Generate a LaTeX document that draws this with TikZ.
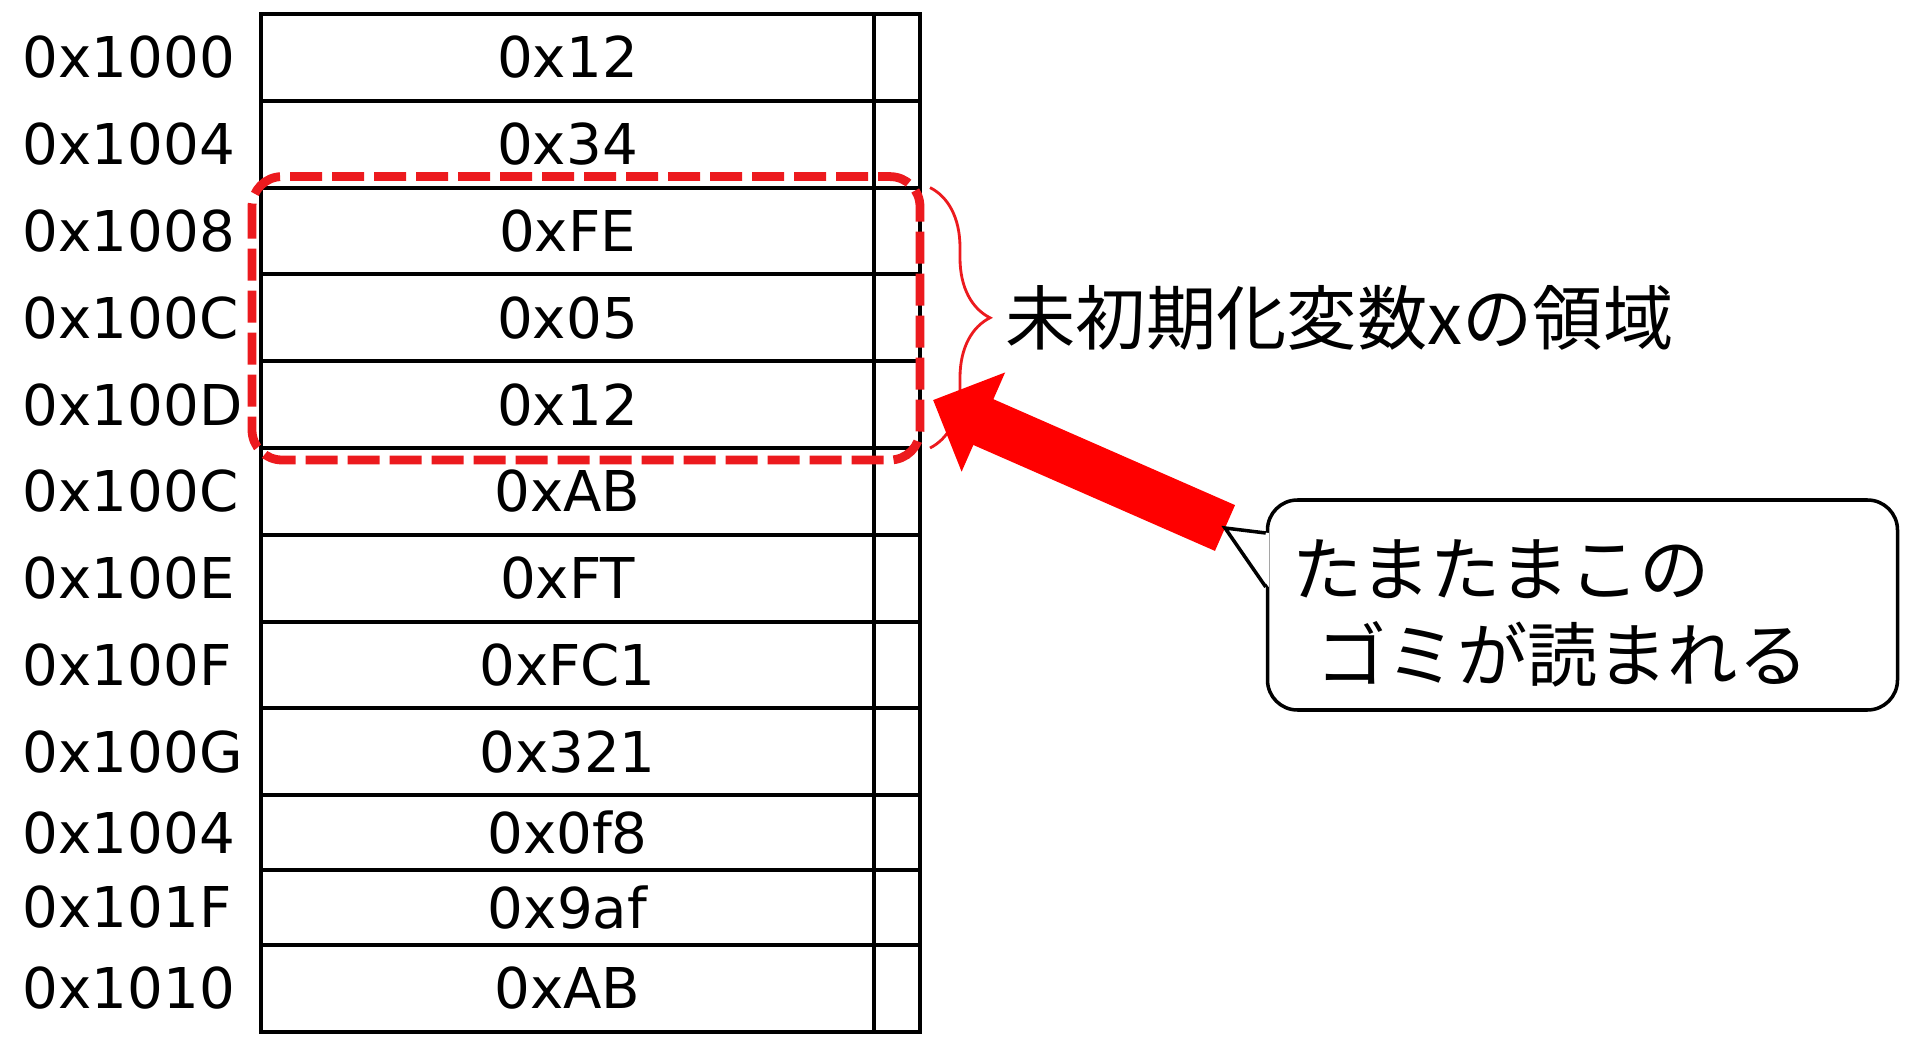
\documentclass[tikz,border=0pt]{standalone}
\usepackage{fontspec}
\setmainfont{DejaVu Sans}
\newfontfamily\jpfont{Noto Sans CJK JP}
\usetikzlibrary{positioning,arrows.meta,decorations.pathreplacing}

\definecolor{dashred}{RGB}{236,26,30}
\definecolor{arrowred}{RGB}{255,0,0}

\begin{document}
\begin{tikzpicture}[x=0.1mm,y=-0.1mm,
    cell/.style={draw,line width=1.1pt,inner sep=0pt,outer sep=0pt,minimum width=61.3mm,font=\fontsize{16}{19}\selectfont},
    side/.style={draw,line width=1.1pt,inner sep=0pt,outer sep=0pt,minimum width=4.6mm},
    addr/.style={anchor=west,inner sep=0pt,font=\fontsize{16}{19}\selectfont},
    region/.style={draw=dashred,line width=2.5pt,dash pattern=on 3.2mm off 1mm,rounded corners=3mm},
    bracket/.style={draw=dashred,line width=0.8pt,decorate,decoration={brace,amplitude=6mm}},
    jplabel/.style={inner sep=0pt,font=\jpfont\fontsize{20}{24}\selectfont},
    note/.style={draw,line width=1pt,rounded corners=3mm,fill=white,text width=58mm,inner xsep=2.5mm,
      minimum height=21mm,align=left,font=\jpfont\fontsize{20}{24.5}\selectfont},
    bigarrow/.style={arrowred,line width=5mm,-{Triangle[length=5.5mm,width=10.5mm]}}]
  \fill[white] (0,0) rectangle (1920,1047);

  % memory table
  \coordinate (v0) at (567.5,14);
  \foreach \a/\v/\h [count=\i, remember=\i as \j (initially 0)] in
      {0x1000/0x12/8.68, 0x1004/0x34/8.68, 0x1008/0xFE/8.68, 0x100C/0x05/8.68,
       0x100D/0x12/8.68, 0x100C/0xAB/8.68, 0x100E/0xFT/8.68, 0x100F/0xFC1/8.68,
       0x100G/0x321/8.68, 0x1004/0x0f8/7.47, 0x101F/0x9af/7.47, 0x1010/0xAB/8.7} {
    \node[cell,minimum height=\h mm,below=0pt of v\j] (v\i) {\v};
    \node[side,minimum height=\h mm,right=0pt of v\i] (s\i) {};
    \node[addr] (a\i) at ([xshift=-23.9mm]v\i.west) {\a};
  }

  % uninitialised area
  \draw[region] ([shift={(-9,-11)}]v3.north west) rectangle ([shift={(0,12)}]s5.south east);
  \draw[bracket] ([xshift=1mm]s3.north east) -- ([xshift=1mm]s5.south east);
  \node[jplabel,right=8.5mm of s4] (area) {未初期化変数xの領域};

  % callout
  \node[note] (garbage) at (1582.5,605) {\rule{0pt}{20.5pt}たまたまこの\\\hspace*{2.4mm}ゴミが読まれる};
  \coordinate (ptip) at (1225,528);
  \coordinate (hit) at (933,400);
  \draw[bigarrow] (ptip) -- (hit);
  \fill[white] ([shift={(3,-72)}]garbage.west) -- (ptip) -- ([shift={(3,-18)}]garbage.west) -- cycle;
  \draw[line width=1pt] ([yshift=7.2mm]garbage.west) -- (ptip) -- ([yshift=1.8mm]garbage.west);
\end{tikzpicture}
\end{document}
